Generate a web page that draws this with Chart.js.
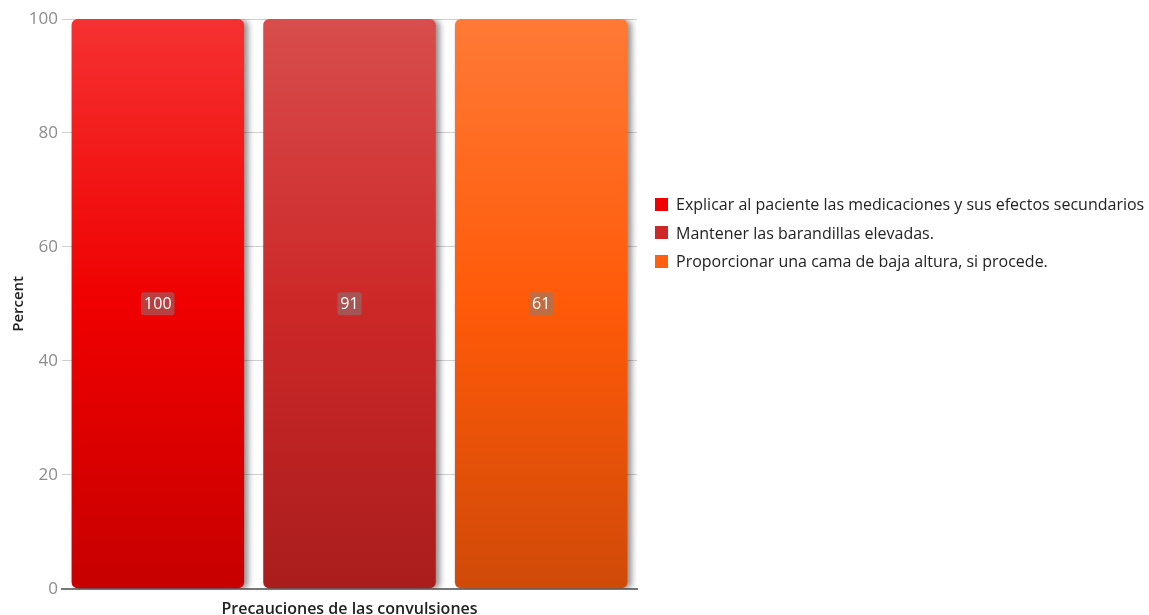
<!DOCTYPE html>
<html>
<head>
    <title>Precauciones de las convulsiones</title>
    <script src="https://cdn.jsdelivr.net/npm/chart.js"></script>
    <style>
        body { margin: 0; background: #fff; font-family: "Open Sans", sans-serif; }
        #wrap { position: relative; width: 1149px; height: 615px; }
        #legend { position: absolute; left: 655px; top: 190px; font-size: 16px; color: #222; }
        #legend div { height: 28.5px; display: flex; align-items: center; white-space: nowrap; }
        #legend span { display: inline-block; width: 13px; height: 13px; margin-right: 8px; }
    </style>
</head>
<body>
<div id="wrap">
    <canvas id="chart"></canvas>
    <div id="legend"></div>
</div>
<script>
    const category = 'Precauciones de las convulsiones';
    const series = [
        'Explicar al paciente las medicaciones y sus efectos secundarios',
        'Mantener las barandillas elevadas.',
        'Proporcionar una cama de baja altura, si procede.'
    ];
    const values = [100, 91, 61];
    const stacks = ['s1', 's2', 's3'];
    const yTicks = [0, 20, 40, 60, 80, 100];

    // colours: legend swatch and top / middle / bottom of the bar gradient
    const swatch = ['#f00000', '#cc2828', '#ff6010'];
    const shades = [
        ['#f53131', '#f00000', '#c70000'],
        ['#d84d4d', '#cd2828', '#aa1d1d'],
        ['#ff7a36', '#ff5a08', '#d04a08']
    ];

    // each series is a 100% stack of its own
    const percent = values.map((v, i) => {
        const total = values.filter((_, j) => stacks[j] === stacks[i]).reduce((a, b) => a + b, 0);
        return v / total * 100;
    });

    function gradient(i) {
        return ctx => {
            const area = ctx.chart.chartArea;
            if (!area) return swatch[i];
            const g = ctx.chart.ctx.createLinearGradient(0, area.top, 0, area.bottom);
            g.addColorStop(0, shades[i][0]);
            g.addColorStop(0.5, shades[i][1]);
            g.addColorStop(1, shades[i][2]);
            return g;
        };
    }

    const barShadow = {
        id: 'barShadow',
        beforeDatasetDraw(chart) {
            const c = chart.ctx;
            c.save();
            c.shadowColor = 'rgba(0,0,0,0.45)';
            c.shadowBlur = 6;
            c.shadowOffsetX = 4;
            c.shadowOffsetY = 1;
        },
        afterDatasetDraw(chart) {
            chart.ctx.restore();
        }
    };

    const valueLabels = {
        id: 'valueLabels',
        afterDatasetsDraw(chart) {
            const c = chart.ctx;
            c.save();
            c.font = '16px "Open Sans"';
            c.textAlign = 'center';
            c.textBaseline = 'middle';
            chart.data.datasets.forEach((ds, i) => {
                const bar = chart.getDatasetMeta(i).data[0];
                const y = (bar.y + bar.base) / 2;
                const text = String(values[i]);
                const w = c.measureText(text).width + 6;
                c.fillStyle = 'rgba(128,128,128,0.5)';
                c.beginPath();
                c.roundRect(bar.x - w / 2, y - 11.5, w, 23, 3);
                c.fill();
                c.fillStyle = '#fff';
                c.fillText(text, bar.x, y + 1);
            });
            c.restore();
        }
    };

    const legend = document.getElementById('legend');
    series.forEach((s, i) => {
        const row = document.createElement('div');
        row.innerHTML = '<span style="background:' + swatch[i] + '"></span>' + s;
        legend.appendChild(row);
    });

    new Chart(document.getElementById('chart'), {
        type: 'bar',
        data: {
            labels: [category],
            datasets: series.map((s, i) => ({
                label: s,
                data: [percent[i]],
                stack: stacks[i],
                backgroundColor: gradient(i),
                borderRadius: 6,
                borderSkipped: false,
                categoryPercentage: 1,
                barPercentage: 0.9
            }))
        },
        options: {
            responsive: true,
            maintainAspectRatio: false,
            animation: false,
            layout: { padding: { top: 19, right: 512, bottom: 0, left: 0 } },
            plugins: {
                legend: { display: false },
                tooltip: { enabled: false }
            },
            scales: {
                x: {
                    stacked: true,
                    grid: { display: false },
                    ticks: { display: false },
                    border: { color: '#777', width: 2 },
                    title: {
                        display: true,
                        text: category,
                        color: '#222',
                        font: { family: 'Open Sans', size: 16, weight: '600' },
                        padding: { top: 3, bottom: -4 }
                    }
                },
                y: {
                    stacked: true,
                    min: 0,
                    max: 100,
                    afterBuildTicks(axis) {
                        axis.ticks = yTicks.map(v => ({ value: v }));
                    },
                    afterFit(axis) {
                        axis.width = 62;
                    },
                    grid: { color: '#d0d0d0', drawTicks: false },
                    border: { display: false },
                    ticks: {
                        color: '#8c8c8c',
                        padding: 4,
                        font: { family: 'Open Sans', size: 17 }
                    },
                    title: {
                        display: true,
                        text: 'Percent',
                        color: '#222',
                        font: { family: 'Open Sans', size: 15, weight: '600' },
                        padding: { top: 10, bottom: 0 }
                    }
                }
            }
        },
        plugins: [barShadow, valueLabels]
    });
</script>
</body>
</html>
